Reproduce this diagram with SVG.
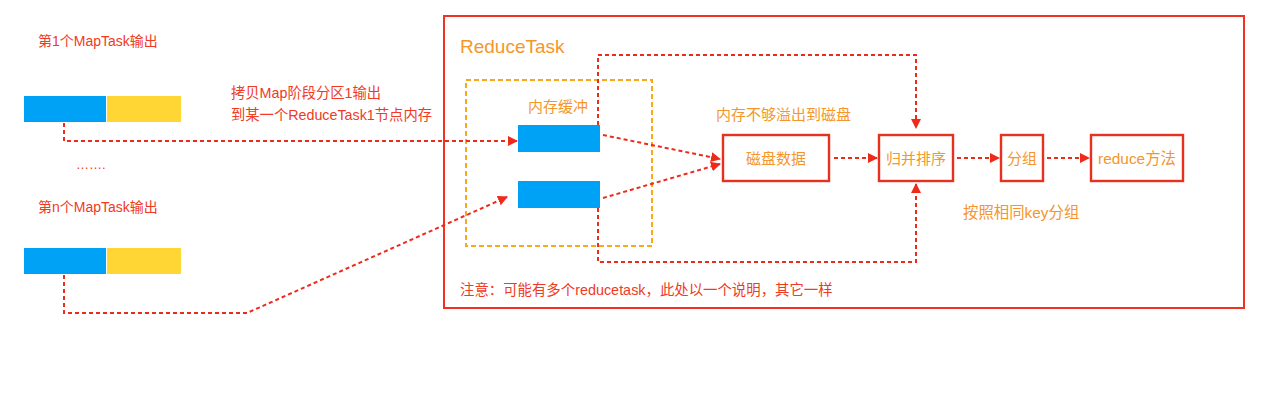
<svg xmlns="http://www.w3.org/2000/svg" width="1278" height="408" viewBox="0 0 1278 408">
<defs>
<marker id="ah" viewBox="0 0 10 10" refX="9" refY="5" markerWidth="10" markerHeight="10" markerUnits="userSpaceOnUse" orient="auto">
<path d="M0,0 L10,5 L0,10 z" fill="#ee2a1a"/>
</marker>
<style>
.t{font-family:"Liberation Sans","Noto Sans CJK SC",sans-serif;}
.red{fill:#f03a24;}
.org{fill:#f5962a;}
.dl{fill:none;stroke:#ee2a1a;stroke-width:2;stroke-dasharray:4 3;}
.box{fill:#fff;stroke:#e8301e;stroke-width:2.4;}
.blue{fill:#00a2f5;}
.yel{fill:#ffd633;}
</style>
</defs>
<rect width="1278" height="408" fill="#fff"/>

<g id="reducetask-frame">
<rect x="444" y="16" width="800" height="292" fill="none" stroke="#ef3320" stroke-width="2"/>
<text class="t org" x="460" y="53" font-size="19">ReduceTask</text>
</g>

<g id="map1">
<text class="t red" x="38" y="46" font-size="14">第1个MapTask输出</text>
<rect class="blue" x="24" y="96" width="82" height="26"/>
<rect class="yel" x="107" y="96" width="74" height="26"/>
</g>
<g id="ellipsis"><text class="t red" x="76" y="169" font-size="13">…….</text></g>
<g id="mapn">
<text class="t red" x="38" y="212" font-size="14">第n个MapTask输出</text>
<rect class="blue" x="24" y="248" width="82" height="26"/>
<rect class="yel" x="107" y="248" width="74" height="26"/>
</g>
<g id="copy-label">
<text class="t red" x="231" y="98" font-size="14.3">拷贝Map阶段分区1输出</text>
<text class="t red" x="231" y="120" font-size="14.3">到某一个ReduceTask1节点内存</text>
</g>

<g id="buffer">
<rect x="466" y="80" width="186" height="166" fill="none" stroke="#f9a81a" stroke-width="2" stroke-dasharray="5 3"/>
<text class="t org" x="528" y="112" font-size="15">内存缓冲</text>
<rect class="blue" x="518" y="125" width="82" height="27"/>
<rect class="blue" x="518" y="181" width="82" height="27"/>
</g>

<g id="disk">
<rect class="box" x="723" y="135" width="106" height="46"/>
<text class="t org" x="776" y="163.5" font-size="15" text-anchor="middle">磁盘数据</text>
<text class="t org" x="716" y="120" font-size="15">内存不够溢出到磁盘</text>
</g>
<g id="merge">
<rect class="box" x="879" y="135" width="74" height="46"/>
<text class="t org" x="916" y="163.5" font-size="15" text-anchor="middle">归并排序</text>
</g>
<g id="group">
<rect class="box" x="1001" y="135" width="42" height="46"/>
<text class="t org" x="1022" y="163.5" font-size="15" text-anchor="middle">分组</text>
<text class="t org" x="963" y="218" font-size="15.4">按照相同key分组</text>
</g>
<g id="reduce">
<rect class="box" x="1091" y="135" width="92" height="46"/>
<text class="t org" x="1137" y="163.5" font-size="15.4" text-anchor="middle">reduce方法</text>
</g>
<g id="note">
<text class="t red" x="460" y="295" font-size="14.4">注意：可能有多个reducetask，此处以一个说明，其它一样</text>
</g>

<g id="connectors">
<path class="dl" d="M64,123 V141 H517" marker-end="url(#ah)"/>
<path class="dl" d="M64,275 V313 H247 L507,197" marker-end="url(#ah)"/>
<path class="dl" d="M603,135 L720,159" marker-end="url(#ah)"/>
<path class="dl" d="M603,198 L720,164" marker-end="url(#ah)"/>
<path class="dl" d="M834,158 H877" marker-end="url(#ah)"/>
<path class="dl" d="M957,158 H999" marker-end="url(#ah)"/>
<path class="dl" d="M1047,158 H1089" marker-end="url(#ah)"/>
<path class="dl" d="M598,125 V55 H916 V128" marker-end="url(#ah)"/>
<path class="dl" d="M598,208 V262 H916 V184" marker-end="url(#ah)"/>
</g>
</svg>
